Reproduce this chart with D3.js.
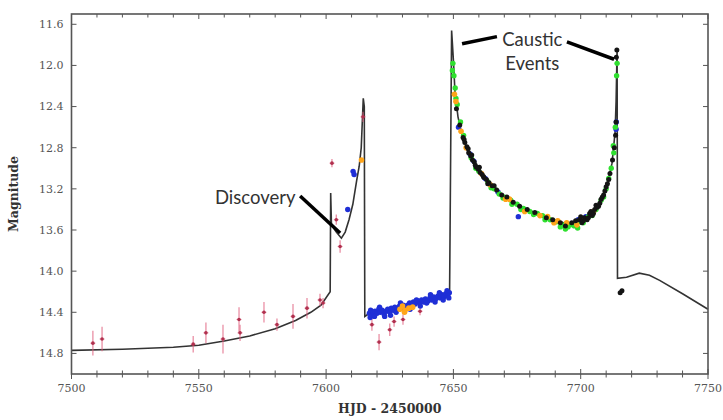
<!DOCTYPE html>
<meta charset="utf-8">
<script src="https://d3js.org/d3.v7.min.js"></script>
<style>
  body { margin: 0; background: #fff; }
</style>
<div id="my_dataviz"></div>
<script>

// x domain (HJD - 2450000) and y domain (magnitude, inverted)
var xDomain = [7500, 7750];
var yDomain = [11.5, 15.0];
var xTicks = [7500, 7550, 7600, 7650, 7700, 7750];
var yTicks = [11.6, 12.0, 12.4, 12.8, 13.2, 13.6, 14.0, 14.4, 14.8];

// model light curve [t, mag]
var model = [
  [7500,14.77],[7520,14.76],[7540,14.74],[7550,14.72],[7560,14.68],[7570,14.63],
  [7580,14.56],[7588,14.48],[7594,14.40],[7598,14.33],[7601.6,14.20],
  [7601.8,13.24],[7602.1,13.55],[7604,13.62],[7606,13.68],[7607.5,13.62],
  [7609,13.50],[7610.5,13.35],[7612,13.12],[7613,12.98],[7613.8,12.80],
  [7614.3,12.50],[7614.6,12.32],[7615.0,12.40],[7615.2,14.44],
  [7617,14.41],[7630,14.35],[7640,14.29],[7648.5,14.22],
  [7649.3,11.66],[7650,11.95],[7650.6,12.25],[7651.8,12.50],[7653.4,12.68],
  [7655.7,12.83],[7658.5,12.96],[7662.4,13.09],[7668.3,13.24],[7674.2,13.34],
  [7680.1,13.41],[7686,13.47],[7691.9,13.52],[7696,13.55],[7699,13.54],
  [7701.7,13.51],[7705.7,13.43],[7708.8,13.28],[7710.7,13.14],[7712.3,12.95],
  [7713.5,12.65],[7713.9,12.35],[7714.3,11.83],[7714.45,14.07],
  [7718,14.06],[7723,14.02],[7727,14.04],[7731,14.09],[7740,14.22],[7750,14.37]
];

// survey points with error bars [t, mag, err]
var redPts = [
  [7508.4,14.70,0.12],[7512,14.66,0.12],[7547.8,14.71,0.08],[7552.8,14.60,0.10],
  [7559.5,14.66,0.14],[7565.8,14.47,0.12],[7566.2,14.60,0.08],[7575.6,14.40,0.10],
  [7580.7,14.52,0.06],[7587,14.44,0.12],[7592.5,14.36,0.10],[7597.6,14.28,0.06],
  [7598.8,14.31,0.05],
  [7602.3,12.95,0.04],[7604,13.50,0.05],[7605.5,13.76,0.06],[7614.5,12.50,0.05],
  [7618,14.52,0.06],[7620.8,14.69,0.08],[7625,14.57,0.06],[7626.7,14.49,0.05],
  [7630.2,14.47,0.05],[7636.9,14.39,0.04]
];

var bluePts = [
  [7608.5,13.40],[7610.6,13.03],[7611,13.06],
  [7617,14.41],[7617.5,14.38],[7618,14.43],[7618.6,14.40],[7619.2,14.39],[7620,14.41],
  [7620.7,14.37],[7621.3,14.40],[7622,14.38],[7622.8,14.42],[7623.5,14.39],[7624.2,14.37],
  [7625,14.40],[7625.6,14.36],[7626.4,14.38],[7627,14.35],[7628,14.37],[7628.8,14.34],
  [7629.5,14.36],[7630.3,14.33],[7631,14.35],[7632,14.33],[7632.8,14.31],[7633.5,14.34],
  [7634.3,14.30],[7635,14.32],[7636,14.29],[7636.8,14.31],[7637.5,14.28],[7638.3,14.30],
  [7639,14.27],[7640,14.29],[7640.8,14.26],[7641.5,14.28],[7642.3,14.25],[7643,14.27],
  [7644,14.24],[7644.8,14.26],[7645.5,14.23],[7646.3,14.25],[7647,14.22],[7647.8,14.24],
  [7648.4,14.21],
  [7617.3,14.45],[7619,14.44],[7621,14.35],[7623,14.44],[7625.3,14.43],[7627.5,14.40],
  [7629.2,14.31],[7633,14.37],[7635.5,14.28],[7637,14.34],[7639.5,14.31],[7641,14.23],
  [7642.8,14.30],[7644.5,14.21],[7646,14.28],[7647.5,14.19],[7648.2,14.26],
  [7652,12.60],[7656.5,12.86],[7658,12.93],[7662.5,13.10],[7665.8,13.19],[7667.5,13.23],
  [7675.5,13.47],[7699,13.50],[7702,13.47],[7713.9,12.62],[7714.0,12.55]
];

var orangePts = [
  [7613.9,12.92],
  [7629,14.37],[7630,14.34],[7631,14.38],[7632.5,14.36],[7634,14.35],[7630.8,14.40],
  [7650.4,12.28],[7651,12.35],[7655,12.80],[7661,13.05],[7664.5,13.16],[7670.5,13.30],
  [7672,13.30],[7684,13.46],[7687,13.47],[7691,13.51],[7694.5,13.53],[7698.5,13.55],
  [7705,13.42],[7653,12.64],[7678,13.42],[7689.5,13.53]
];

var greenPts = [
  [7649.8,11.98],[7650.2,12.10],[7650.7,12.22],[7651.5,12.38],[7652.8,12.55],[7654,12.68],
  [7657,12.90],[7660,13.03],[7663.5,13.13],[7666,13.20],[7668,13.25],[7670,13.28],
  [7672.5,13.31],[7675,13.35],[7677.5,13.39],[7680,13.42],[7683,13.44],[7685,13.46],
  [7688,13.50],[7690.5,13.52],[7693,13.55],[7695,13.57],[7696,13.55],[7697.5,13.56],
  [7700,13.52],[7703,13.47],[7706,13.40],[7708,13.31],[7710,13.20],[7711,13.10],
  [7712,13.00],[7713,12.85],[7713.6,12.60],[7714.3,11.98],
  [7649.6,12.05],[7651,12.32],[7658.8,13.00],[7664.8,13.19],[7669.5,13.29],[7673,13.35],
  [7676.5,13.40],[7681.5,13.45],[7686,13.50],[7692,13.57],[7694,13.59],[7698.8,13.58],
  [7701,13.53],[7704.5,13.46],[7709,13.28],[7712.8,12.78],[7714.1,12.10]
];

var blackPts = [
  [7651.2,12.42],[7652.5,12.58],[7653.8,12.70],[7654.5,12.75],[7655.3,12.79],[7656,12.85],
  [7656.8,12.88],[7657.5,12.92],[7658.2,12.94],[7659,12.99],[7659.8,13.01],[7660.5,13.04],
  [7661.3,13.06],[7662,13.09],[7663,13.11],[7664,13.14],[7665.2,13.17],[7667,13.21],
  [7669,13.26],[7671,13.28],[7673.5,13.33],[7676,13.37],[7679,13.40],[7682,13.43],
  [7686.5,13.48],[7689,13.50],[7692,13.53],[7694,13.56],[7696.5,13.53],[7698,13.51],
  [7699.5,13.50],[7700.5,13.53],[7701.5,13.48],[7702.5,13.50],[7703.5,13.44],[7704.5,13.46],
  [7705.5,13.40],[7706.5,13.38],[7707.5,13.34],[7708.5,13.28],[7709.5,13.22],[7710.5,13.15],
  [7711.5,13.05],[7712.5,12.92],[7713.2,12.80],[7714.0,11.92],[7714.2,11.85],
  [7654.2,12.72],[7655.8,12.81],[7657.2,12.87],[7658.6,12.97],[7660.2,12.99],[7661.8,13.08],
  [7663.5,13.15],[7666,13.17],[7700,13.47],[7701,13.51],[7703,13.48],[7704,13.42],
  [7705,13.44],[7706,13.36],[7707,13.37],[7708,13.30],[7709,13.26],[7710,13.18],
  [7711,13.11],[7713.7,12.68],[7713.9,12.55],
  [7715.5,14.21],[7716.2,14.19]
];

// annotations: [text, t, mag] and arrows [t1, mag1, t2, mag2]
var labels = [["Discovery", 7588, 13.28], ["Caustic", 7681, 11.75], ["Events", 7681, 11.98]];
var arrows = [[7589.8, 13.27, 7605.5, 13.63], [7653.4, 11.79, 7667.1, 11.72], [7694.6, 11.77, 7713.1, 11.94]];

// set the dimensions and margins of the graph
var margin = {top: 14, right: 15, bottom: 46, left: 71.5},
    width = 723 - margin.left - margin.right,
    height = 420 - margin.top - margin.bottom;

var svg = d3.select("#my_dataviz")
  .append("svg")
    .attr("width", 723)
    .attr("height", 420)
  .append("g")
    .attr("transform", "translate(" + margin.left + "," + margin.top + ")");

var x = d3.scaleLinear().domain(xDomain).range([0, width]);
var y = d3.scaleLinear().domain(yDomain).range([0, height]);

var axisColor = "#555";
var serif = "'DejaVu Serif', 'Liberation Serif', serif";

// model line
svg.append("path")
  .datum(model)
  .attr("fill", "none")
  .attr("stroke", "#333")
  .attr("stroke-width", 1.6)
  .attr("d", d3.line()
    .x(function(d) { return x(d[0]) })
    .y(function(d) { return y(d[1]) }));

// red points with error bars
var red = svg.append("g").selectAll("g").data(redPts).enter().append("g");
red.append("line")
  .attr("x1", function(d) { return x(d[0]) })
  .attr("x2", function(d) { return x(d[0]) })
  .attr("y1", function(d) { return y(d[1] - d[2]) })
  .attr("y2", function(d) { return y(d[1] + d[2]) })
  .attr("stroke", "#e0607e")
  .attr("stroke-opacity", 0.7)
  .attr("stroke-width", 1.3);
red.append("line")
  .attr("x1", function(d) { return x(d[0]) - 2.5 })
  .attr("x2", function(d) { return x(d[0]) + 2.5 })
  .attr("y1", function(d) { return y(d[1]) })
  .attr("y2", function(d) { return y(d[1]) })
  .attr("stroke", "#e0607e")
  .attr("stroke-opacity", 0.7)
  .attr("stroke-width", 1);
red.append("circle")
  .attr("cx", function(d) { return x(d[0]) })
  .attr("cy", function(d) { return y(d[1]) })
  .attr("r", 1.8)
  .attr("fill", "#b0304e");

function drawDots(data, color, r) {
  svg.append("g").selectAll("circle").data(data).enter().append("circle")
    .attr("cx", function(d) { return x(d[0]) })
    .attr("cy", function(d) { return y(d[1]) })
    .attr("r", r)
    .attr("fill", color);
}
drawDots(bluePts, "#1f2fd6", 2.7);
drawDots(greenPts, "#2fe02f", 2.7);
drawDots(orangePts, "#ffa51a", 2.8);
drawDots(blackPts, "#141414", 2.5);

// frame
svg.append("rect")
  .attr("width", width).attr("height", height)
  .attr("fill", "none").attr("stroke", axisColor).attr("stroke-width", 1.6);

// ticks on all four sides
var minorX = d3.range(7510, 7750, 10).filter(function(v) { return v % 50 != 0 });
var tk = svg.append("g").attr("stroke", axisColor).attr("stroke-width", 1);
xTicks.concat(minorX).forEach(function(v) {
  var len = (v % 50 == 0) ? 5 : 3.5;
  tk.append("line").attr("x1", x(v)).attr("x2", x(v)).attr("y1", height - len).attr("y2", height + len);
  tk.append("line").attr("x1", x(v)).attr("x2", x(v)).attr("y1", 0).attr("y2", len);
});
yTicks.forEach(function(v) {
  tk.append("line").attr("x1", 0).attr("x2", 5).attr("y1", y(v)).attr("y2", y(v));
  tk.append("line").attr("x1", width - 5).attr("x2", width).attr("y1", y(v)).attr("y2", y(v));
});

// tick labels
svg.append("g").selectAll("text").data(xTicks).enter().append("text")
  .attr("x", function(d) { return x(d) })
  .attr("y", height + 18)
  .attr("text-anchor", "middle")
  .style("font-family", serif).style("font-size", "11px").style("fill", "#555")
  .text(function(d) { return d });
svg.append("g").selectAll("text").data(yTicks).enter().append("text")
  .attr("x", -8)
  .attr("y", function(d) { return y(d) })
  .attr("dy", "0.35em")
  .attr("text-anchor", "end")
  .style("font-family", serif).style("font-size", "11px").style("fill", "#555")
  .text(function(d) { return d.toFixed(1) });

// axis titles
svg.append("text")
  .attr("x", width / 2).attr("y", height + 39)
  .attr("text-anchor", "middle")
  .style("font-family", serif).style("font-size", "12.5px").style("font-weight", "bold").style("fill", "#333")
  .text("HJD - 2450000");
svg.append("text")
  .attr("transform", "translate(" + (-54) + "," + (height / 2) + ") rotate(-90)")
  .attr("text-anchor", "middle")
  .style("font-family", serif).style("font-size", "12.5px").style("font-weight", "bold").style("fill", "#333")
  .text("Magnitude");

// annotations
svg.append("g").selectAll("line").data(arrows).enter().append("line")
  .attr("x1", function(d) { return x(d[0]) })
  .attr("y1", function(d) { return y(d[1]) })
  .attr("x2", function(d) { return x(d[2]) })
  .attr("y2", function(d) { return y(d[3]) })
  .attr("stroke", "#000").attr("stroke-width", 3.5);
svg.append("g").selectAll("text").data(labels).enter().append("text")
  .attr("x", function(d) { return x(d[1]) })
  .attr("y", function(d) { return y(d[2]) })
  .attr("dy", "0.35em")
  .attr("text-anchor", function(d, i) { return i == 0 ? "end" : "middle" })
  .style("font-family", "Lato, 'Open Sans', sans-serif").style("font-size", "18.5px").style("fill", "#333")
  .text(function(d) { return d[0] });

</script>
